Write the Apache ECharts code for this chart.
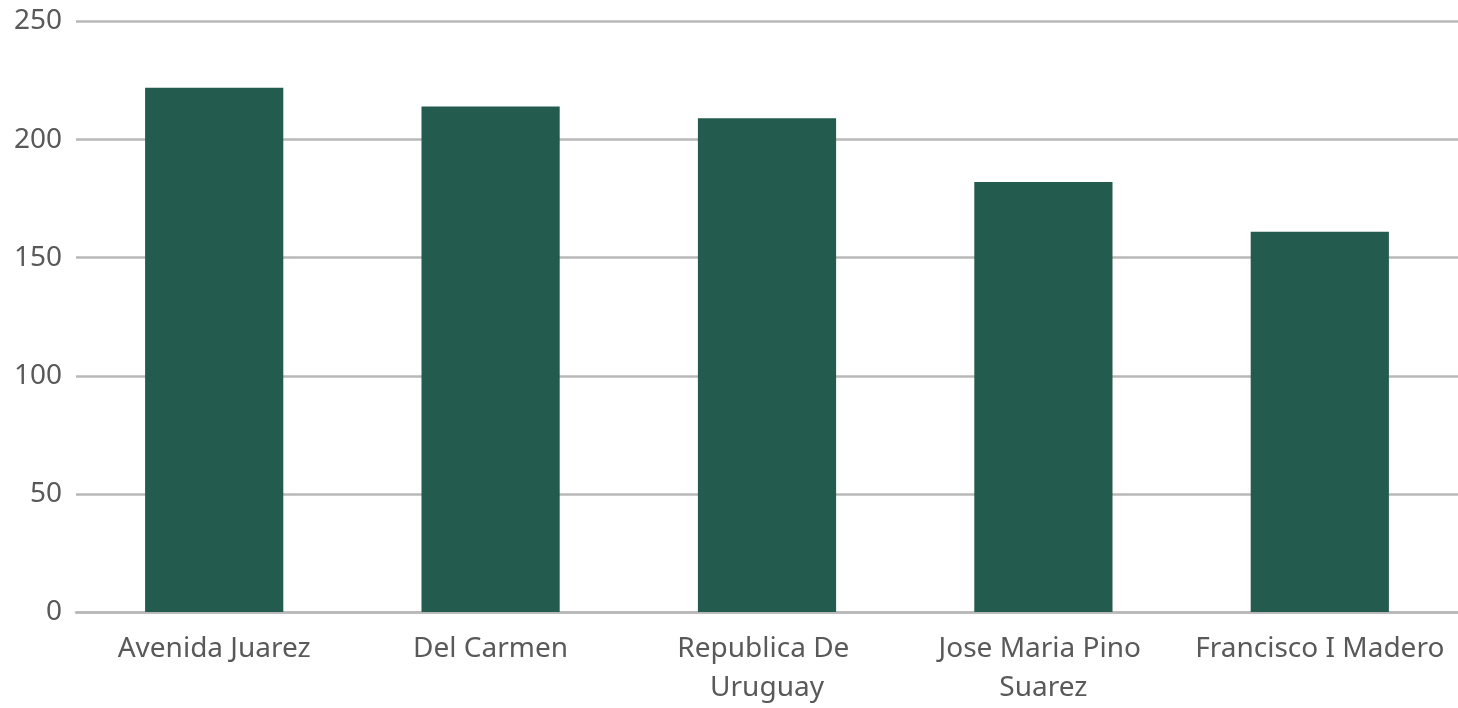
<!DOCTYPE html>
<html>
<head>
<meta charset="utf-8">
<script src="https://cdn.jsdelivr.net/npm/echarts@6/dist/echarts.min.js"></script>
<style>
html,body{margin:0;padding:0;background:#fff;}
#chart{width:1458px;height:708px;}
</style>
</head>
<body>
<div id="chart"></div>
<script>
const categories = ["Avenida Juarez", "Del Carmen", "Republica De Uruguay", "Jose Maria Pino Suarez", "Francisco I Madero"];
const values = [222, 214, 209, 182, 161];
const yTicks = { min: 0, max: 250, interval: 50 };

const chart = echarts.init(document.getElementById('chart'), null, { renderer: 'canvas' });
chart.setOption({
  animation: false,
  backgroundColor: '#ffffff',
  grid: { left: 76, right: -3, top: 21.5, bottom: 89.5, containLabel: false },
  xAxis: {
    type: 'category',
    data: categories,
    axisTick: { show: false },
    axisLine: { show: true, lineStyle: { color: '#B8B8B8', width: 2.5 } },
    axisLabel: {
      color: '#595959',
      fontFamily: 'Noto Sans',
      fontSize: 28,
      margin: 18,
      lineHeight: 39,
      width: 262,
      overflow: 'break',
      interval: 0
    }
  },
  yAxis: {
    type: 'value',
    min: yTicks.min,
    max: yTicks.max,
    interval: yTicks.interval,
    axisLine: { show: false },
    axisTick: { show: false },
    axisLabel: {
      color: '#595959',
      fontFamily: 'Noto Sans',
      fontSize: 28,
      margin: 14
    },
    splitLine: { show: true, lineStyle: { color: '#B8B8B8', width: 2.5 } }
  },
  series: [{
    type: 'bar',
    data: values,
    barWidth: '50%',
    itemStyle: { color: '#235B4E' }
  }]
});
</script>
</body>
</html>
